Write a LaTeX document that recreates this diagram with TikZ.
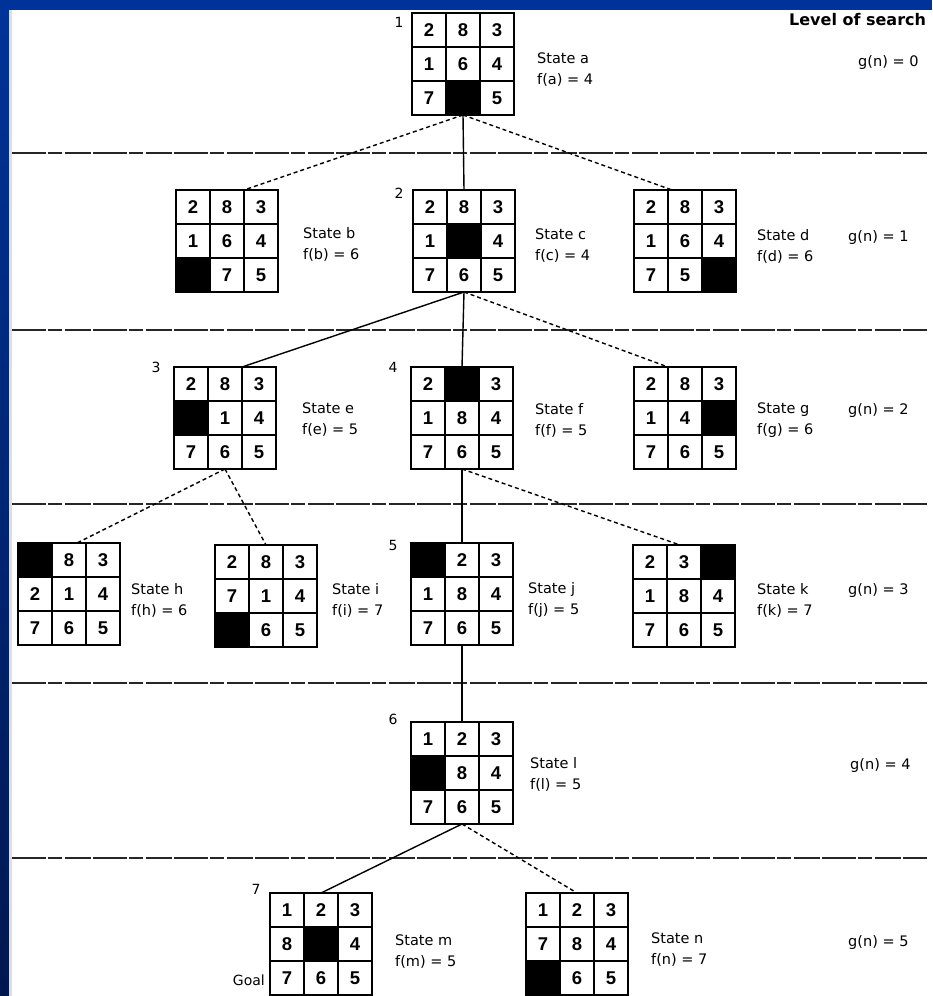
\documentclass[tikz,border=0pt]{standalone}
\usepackage{fontspec}
\setmainfont{Liberation Sans}
\newfontfamily\labfont{DejaVu Sans}
\usetikzlibrary{calc}
\definecolor{frameblue}{RGB}{0,51,153}
\definecolor{framedark}{RGB}{0,24,80}
\definecolor{framegray}{RGB}{222,222,222}

\tikzset{
  cellline/.style={line width=2.2pt},
  digit/.style={font=\fontsize{18.5}{18.5}\selectfont\bfseries, inner sep=0pt},
  statelabel/.style={font=\labfont\fontsize{14.5}{21}\selectfont, align=left, anchor=west, inner sep=0pt},
  levellabel/.style={font=\labfont\fontsize{14.5}{21}\selectfont, anchor=west, inner sep=0pt},
  ordernum/.style={font=\labfont\fontsize{14}{14}\selectfont, inner sep=0pt},
  levelline/.style={line width=1.6pt, black!85, dash pattern=on 34pt off 2pt on 14pt off 3pt on 26pt off 2pt},
  expanded/.style={line width=1.4pt},
  unexpanded/.style={line width=1.4pt, dash pattern=on 4pt off 3pt},
  gridbox/.style={minimum width=102pt, minimum height=102pt, inner sep=0pt, outer sep=0pt, draw, line width=2.6pt},
}

\newcommand\puzzle[4]{%
  \foreach \v [count=\k from 0] in {#4} {%
    \pgfmathtruncatemacro\cc{mod(\k,3)}%
    \pgfmathtruncatemacro\rr{\k/3}%
    \ifnum\v=0\relax
      \fill (#2+\cc*34, #3+\rr*34) rectangle ++(34,34);
    \else
      \node[digit] (#1-\k) at (#2+\cc*34+17, #3+\rr*34+17) {\v};
    \fi
    \draw[cellline] (#2+\cc*34, #3+\rr*34) rectangle ++(34,34);
  }
  \node[gridbox] (#1) at (#2+51, #3+51) {};
}

\begin{document}
\begin{tikzpicture}[x=1pt, y=-1pt]
\useasboundingbox (0,0) rectangle (932,996);
\fill[white] (0,0) rectangle (932,996);
% frame
\shade[top color=frameblue, bottom color=framedark] (0,0) rectangle (9,996);
\fill[framegray] (9,10) rectangle (12,996);
\fill[frameblue] (0,0) rectangle (932,10);

% level lines
\foreach \yy/\nm in {153/1, 330/2, 504/3, 683/4, 858/5} {
  \coordinate (L\nm s) at (12,\yy);
  \coordinate (L\nm e) at (927,\yy);
  \draw[levelline] (L\nm s) -- (L\nm e);
}

% puzzles
\puzzle{a}{412}{13}{2,8,3,1,6,4,7,0,5}
\puzzle{b}{176}{190}{2,8,3,1,6,4,0,7,5}
\puzzle{c}{413}{190}{2,8,3,1,0,4,7,6,5}
\puzzle{d}{634}{190}{2,8,3,1,6,4,7,5,0}
\puzzle{e}{174}{367}{2,8,3,0,1,4,7,6,5}
\puzzle{f}{411}{367}{2,0,3,1,8,4,7,6,5}
\puzzle{g}{634}{367}{2,8,3,1,4,0,7,6,5}
\puzzle{h}{18}{543}{0,8,3,2,1,4,7,6,5}
\puzzle{i}{215}{545}{2,8,3,7,1,4,0,6,5}
\puzzle{j}{411}{543}{0,2,3,1,8,4,7,6,5}
\puzzle{k}{633}{545}{2,3,0,1,8,4,7,6,5}
\puzzle{l}{411}{722}{1,2,3,0,8,4,7,6,5}
\puzzle{m}{270}{893}{1,2,3,8,0,4,7,6,5}
\puzzle{n}{526}{893}{1,2,3,7,8,4,0,6,5}

% connectors
\draw[expanded] (a.south) -- (c.north);
\draw[unexpanded] (a.south) -- ([xshift=17pt]b.north);
\draw[unexpanded] (a.south) -- ([xshift=-13pt]d.north);
\draw[expanded] (c.south) -- ([xshift=17pt]e.north);
\draw[expanded] (c.south) -- (f.north);
\draw[unexpanded] (c.south) -- ([xshift=-17pt]g.north);
\draw[unexpanded] (e.south) -- ([xshift=8pt]h.north);
\draw[unexpanded] (e.south) -- (i.north);
\draw[expanded] (f.south) -- (j.north);
\draw[unexpanded] (f.south) -- ([xshift=-4pt]k.north);
\draw[expanded] (j.south) -- (l.north);
\draw[expanded] (l.south) -- (m.north);
\draw[unexpanded] (l.south) -- (n.north);

% state labels
\node[statelabel] (la) at (537,70) {State a\\f(a) = 4};
\node[statelabel] (lb) at (303,244) {State b\\f(b) = 6};
\node[statelabel] (lc) at (535,246) {State c\\f(c) = 4};
\node[statelabel] (ld) at (757,246) {State d\\f(d) = 6};
\node[statelabel] (le) at (302,420) {State e\\f(e) = 5};
\node[statelabel] (lf) at (535,420) {State f\\f(f) = 5};
\node[statelabel] (lg) at (757,420) {State g\\f(g) = 6};
\node[statelabel] (lh) at (131,600) {State h\\f(h) = 6};
\node[statelabel] (li) at (332,600) {State i\\f(i) = 7};
\node[statelabel] (lj) at (528,600) {State j\\f(j) = 5};
\node[statelabel] (lk) at (757,600) {State k\\f(k) = 7};
\node[statelabel] (ll) at (530,774) {State l\\f(l) = 5};
\node[statelabel] (lm) at (395,952) {State m\\f(m) = 5};
\node[statelabel] (ln) at (651,950) {State n\\f(n) = 7};

% level labels
\node[font=\labfont\bfseries\fontsize{16}{18}\selectfont, anchor=west, inner sep=0pt] (lvl) at (789,20) {Level of search};
\node[levellabel] (g0) at (858,63) {g(n) = 0};
\node[levellabel] (g1) at (848,238) {g(n) = 1};
\node[levellabel] (g2) at (848,411) {g(n) = 2};
\node[levellabel] (g3) at (848,590) {g(n) = 3};
\node[levellabel] (g4) at (850,765) {g(n) = 4};
\node[levellabel] (g5) at (848,942) {g(n) = 5};

% expansion order
\node[ordernum] (o1) at (399,22) {1};
\node[ordernum] (o2) at (399,193) {2};
\node[ordernum] (o3) at (156,367) {3};
\node[ordernum] (o4) at (393,367) {4};
\node[ordernum] (o5) at (393,545) {5};
\node[ordernum] (o6) at (393,719) {6};
\node[ordernum] (o7) at (256,889) {7};
\node[ordernum, anchor=east] (goal) at (265,980) {Goal};
\end{tikzpicture}
\end{document}
